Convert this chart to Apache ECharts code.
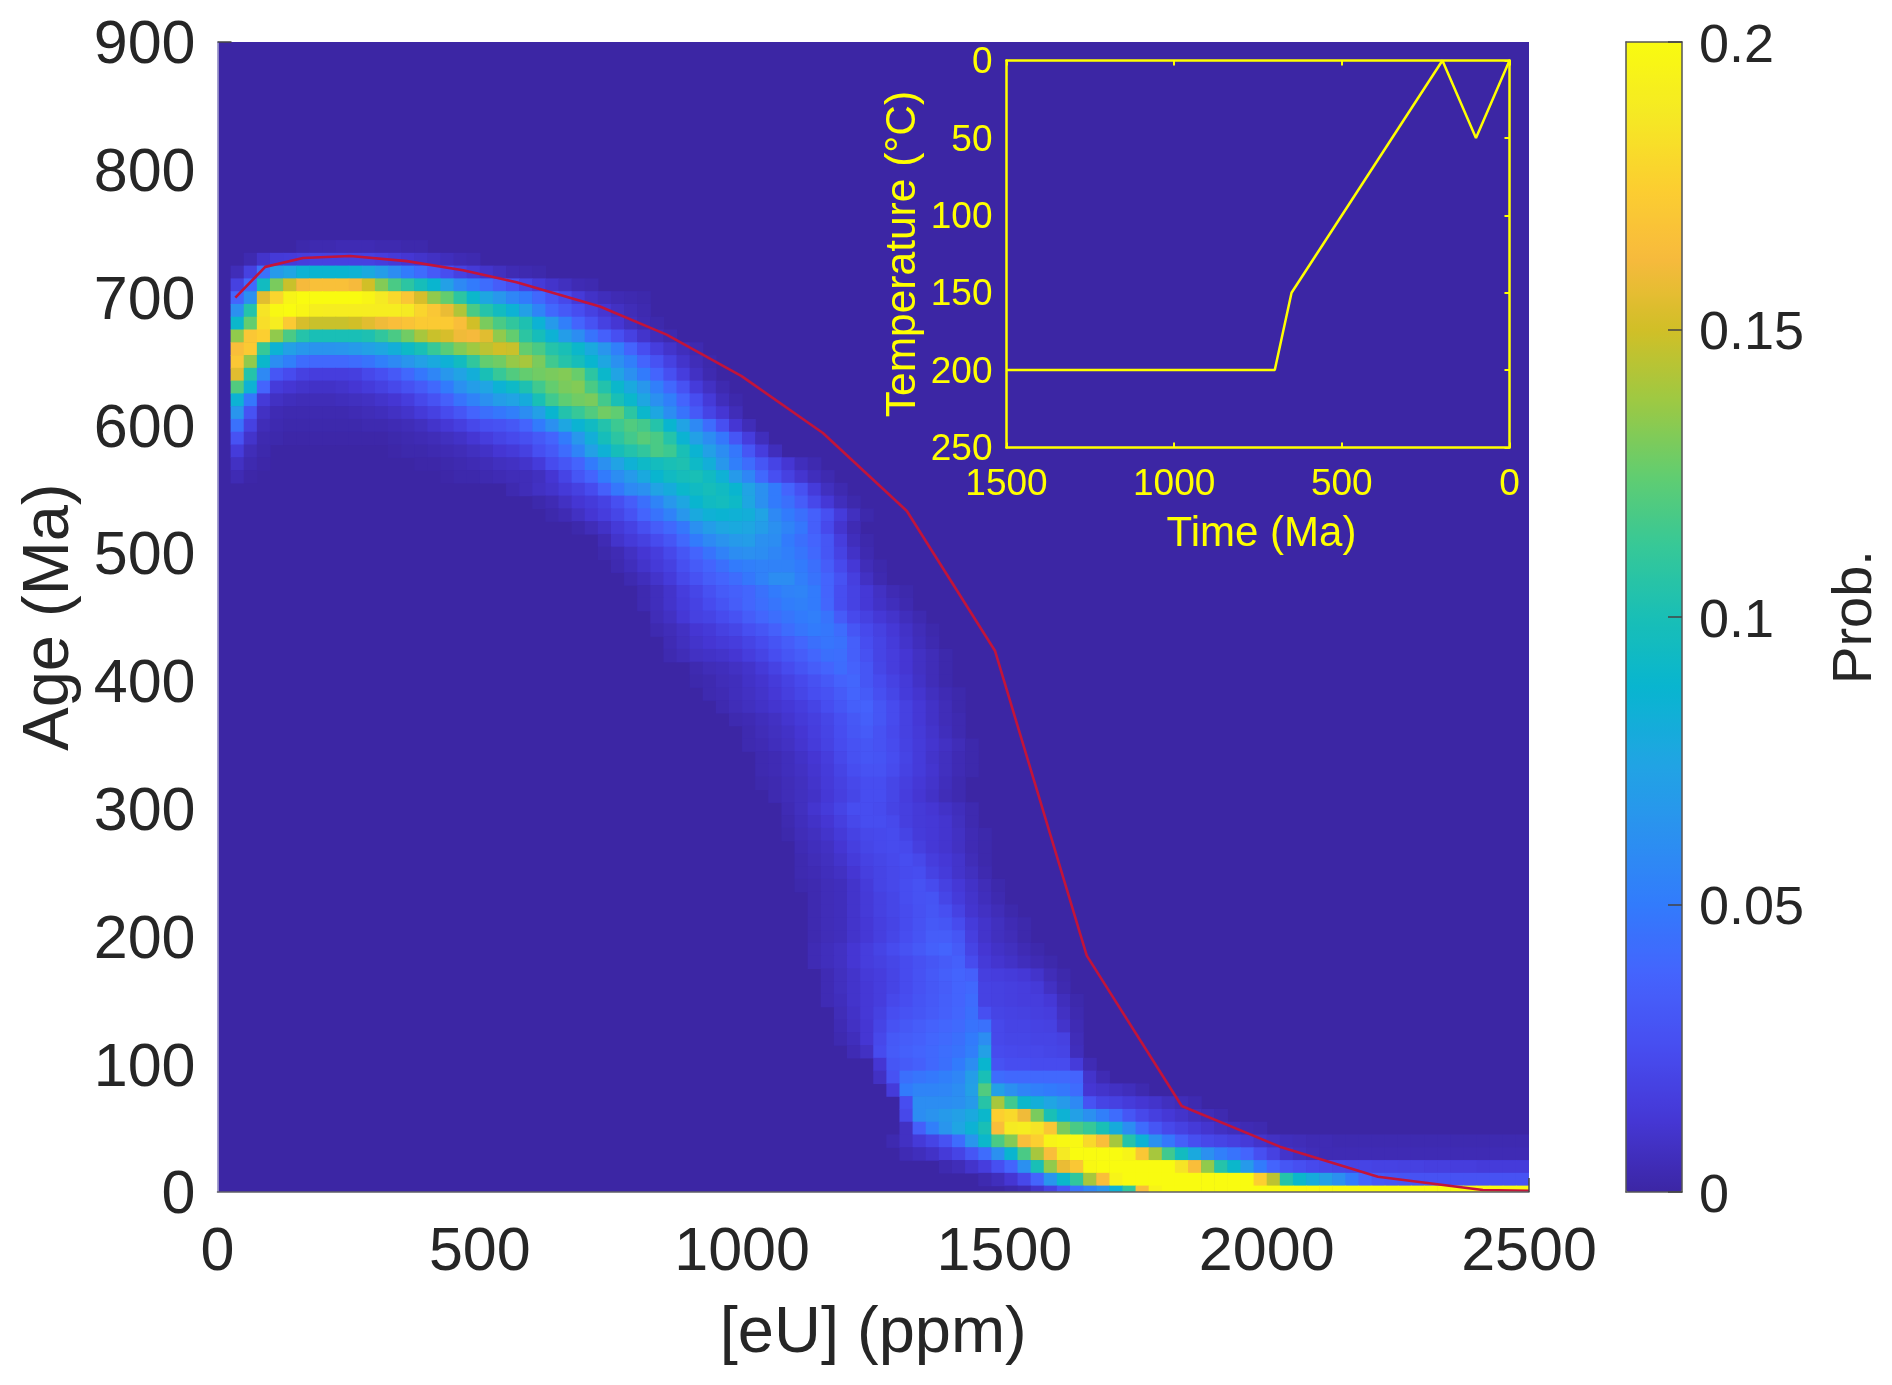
<!DOCTYPE html>
<html><head><meta charset="utf-8">
<style>html,body{margin:0;padding:0;background:#fff}#c{width:1892px;height:1385px}</style>
<script src="https://cdn.jsdelivr.net/npm/echarts@6/dist/echarts.min.js"></script>
</head><body><div id="c"></div>
<script>
// Heat-map cells: one row per age bin (centre, Ma); values are probability in thousandths.
// Column k covers 25k..25(k+1) ppm eU; startCols gives the k of the first listed value.
const eUStep = 25, ageStep = 10;
const ageBins = [740,730,720,710,700,690,680,670,660,650,640,630,620,610,600,590,580,570,560,550,540,530,520,510,500,490,480,470,460,450,440,430,420,410,400,390,380,370,360,350,340,330,320,310,300,290,280,270,260,250,240,230,220,210,200,190,180,170,160,150,140,130,120,110,100,90,80,70,60,50,40,30,20,10,0];
const startCols = [6,2,1,1,1,1,1,1,1,1,1,1,1,1,1,1,1,1,1,22,24,25,27,29,29,30,31,32,32,33,33,34,34,36,36,37,38,39,40,40,41,41,41,42,43,43,43,44,44,44,44,45,45,45,45,45,45,46,46,46,47,47,47,48,50,50,51,52,52,52,51,52,55,58,60];
const probRows = [
[2,3,3,4,4,4,3,3,2,2],
[3,10,14,15,16,18,18,18,18,18,16,14,12,10,8,6,4,3],
[5,18,45,68,75,85,87,87,87,85,78,70,60,50,42,32,25,18,14,10,7,4,3,2],
[18,40,95,130,148,162,166,166,166,162,150,132,118,108,98,88,72,58,50,42,34,28,20,14,10,7,4,3],
[38,62,155,178,195,200,200,200,200,200,196,188,180,170,152,135,125,108,90,76,66,56,50,40,30,22,14,9,6,4,3,2],
[62,105,185,198,200,196,191,190,190,190,190,190,190,188,178,170,158,142,118,105,95,85,72,55,40,32,25,18,12,8,5,3],
[90,125,182,190,172,152,148,148,148,150,155,160,165,168,172,172,172,165,150,130,118,110,102,85,68,52,38,28,18,12,7,4,2],
[135,170,175,135,118,105,100,100,100,100,102,110,118,128,140,148,152,160,162,155,135,125,108,98,85,70,60,46,36,26,18,10,6,3],
[165,172,112,85,72,66,64,64,65,68,72,76,82,92,100,112,122,132,138,145,150,148,125,118,105,100,90,78,65,52,38,25,16,10,6,3],
[170,135,90,60,52,42,40,40,40,42,46,52,58,65,72,78,84,95,110,125,128,136,140,130,115,105,98,88,76,62,52,38,28,18,10,5,2],
[155,105,58,30,24,18,16,16,16,17,22,26,32,40,48,56,66,74,82,100,112,120,125,128,130,132,126,108,90,74,62,50,38,26,16,8,3],
[120,85,38,15,12,10,9,9,10,12,15,18,22,27,33,40,50,62,70,75,85,92,102,115,125,130,132,118,104,90,78,66,52,40,28,15,8,3],
[85,48,14,8,6,5,5,5,6,7,8,10,12,16,22,28,36,46,54,62,70,74,80,100,115,124,128,130,116,100,90,76,62,52,38,25,14,6,2],
[65,28,8,4,3,3,3,3,3,4,5,6,8,10,14,18,24,30,38,44,48,52,60,72,88,104,112,120,128,124,108,90,76,60,46,32,20,12,5],
[45,18,5,3,2,2,2,2,2,2,3,3,4,5,7,10,13,17,22,26,28,31,38,50,62,76,86,94,104,114,120,116,105,88,74,58,42,26,12,5],
[28,10,3,2,1,1,1,1,1,1,1,1,2,3,4,5,7,9,12,16,20,23,26,32,38,50,66,82,98,108,116,122,118,105,86,72,60,48,30,16,6],
[15,5,2,0,0,0,0,0,0,0,0,0,1,2,2,3,4,5,7,9,12,14,18,26,32,42,55,72,84,98,104,110,118,114,100,86,72,60,48,30,16,6],
[8,3,1,0,0,0,0,0,0,0,0,0,0,0,1,1,2,3,4,5,7,8,10,15,24,30,38,50,62,74,84,92,96,100,102,92,82,66,52,42,30,20,12,6,3],
[4,1,0,0,0,0,0,0,0,0,0,0,0,0,0,0,1,2,2,3,4,5,5,7,12,20,30,38,50,60,68,78,88,94,98,100,94,84,68,56,40,26,18,11,6,3],
[3,5,8,10,14,18,24,36,48,58,62,74,80,90,94,98,94,88,74,62,50,38,27,15,7,3],
[2,4,8,12,15,19,26,34,44,55,66,76,88,94,96,92,76,62,50,44,34,22,13,6,2],
[2,4,8,12,16,21,28,38,46,54,66,78,84,86,84,82,74,58,50,44,36,26,15,7,2],
[2,5,9,14,19,26,34,40,48,62,70,76,78,76,70,62,55,48,35,23,11,4],
[4,10,14,18,24,30,40,50,58,64,68,70,62,60,50,44,38,30,16,6,2],
[2,4,8,12,16,22,30,38,46,54,60,62,60,56,52,47,40,30,19,9,3],
[3,6,10,14,18,26,33,38,44,50,52,54,54,54,50,44,34,23,13,5,2],
[3,6,10,15,22,28,34,38,42,48,54,60,60,52,46,38,28,17,8,3],
[3,6,10,16,21,27,33,36,39,45,50,54,55,50,38,25,19,13,8,4,2],
[3,6,10,15,19,24,29,34,39,43,47,51,53,50,39,25,19,13,9,6,3],
[5,8,13,18,20,24,28,34,39,43,47,50,52,46,33,23,18,13,10,6,3],
[3,5,8,12,14,18,21,26,30,36,42,47,50,48,42,30,23,18,13,9,5,2],
[4,7,10,12,14,16,20,24,29,34,39,44,47,45,35,25,20,15,10,6,3],
[3,5,8,9,10,12,16,20,25,30,34,39,44,43,35,27,20,16,12,8,5,2],
[3,5,6,8,10,14,19,24,29,34,38,42,37,30,21,16,12,8,5,2],
[2,3,5,6,9,11,15,19,23,27,32,37,39,30,24,19,14,9,5,2],
[3,4,6,8,10,13,17,21,25,28,33,38,33,26,21,15,11,7,4,2],
[3,5,7,9,11,13,16,20,25,30,35,37,30,24,18,13,9,5,2],
[3,4,6,8,11,14,17,21,26,31,35,30,24,18,13,9,5,3],
[3,5,7,9,12,16,20,25,30,33,28,23,18,14,10,6,3],
[3,4,6,8,11,15,19,24,28,30,28,24,19,15,11,8,5,2],
[3,4,6,9,12,16,22,27,30,29,25,20,15,10,7,4,2],
[3,4,6,8,11,15,20,25,28,28,24,19,15,11,7,4,2],
[2,3,5,7,10,14,18,22,25,25,21,17,13,10,6,3],
[3,5,7,9,13,17,21,25,25,21,16,12,9,5,3],
[4,7,11,15,20,25,25,24,20,17,14,12,9,6,3],
[3,6,9,12,17,22,25,25,23,17,14,13,11,7,3],
[2,5,7,10,14,19,22,23,24,20,15,13,11,8,4,2],
[4,6,8,12,17,21,23,24,23,17,13,11,8,4,2],
[3,5,7,10,15,19,21,23,25,22,16,13,10,5,2],
[3,4,6,8,12,17,20,22,24,25,19,15,10,7,3],
[2,3,5,6,10,15,20,22,25,28,24,18,13,9,5,2],
[3,5,6,10,14,18,21,25,28,29,21,15,10,6,3],
[3,5,6,10,14,18,21,24,27,30,26,19,11,8,5,2],
[3,5,6,10,13,17,20,24,28,32,30,24,15,10,7,4,2],
[3,5,6,10,13,17,21,25,29,34,34,30,17,10,7,5,2],
[4,6,8,12,16,20,24,28,32,36,38,33,20,12,9,7,4,2],
[4,6,8,12,16,18,21,24,27,30,33,36,24,14,11,9,6,4,2],
[4,7,10,14,16,20,24,28,32,35,38,36,17,16,15,13,10,5,2],
[4,7,10,13,16,20,24,28,31,34,38,40,19,18,17,16,14,8,3],
[4,6,10,13,16,22,25,29,32,35,38,42,19,18,17,16,16,13,6,2],
[5,9,13,18,25,28,30,33,36,39,44,26,20,19,18,17,16,8,3],
[4,8,12,20,28,31,34,37,39,41,46,45,22,20,20,19,18,10,4],
[3,6,12,22,32,34,36,39,41,44,50,60,22,21,21,20,20,18,5],
[4,8,24,33,36,38,40,43,46,52,72,24,23,22,22,21,20,6],
[12,30,33,36,40,44,50,60,88,28,25,25,24,24,24,15,4],
[8,28,44,47,49,52,56,70,100,42,40,40,40,40,40,38,10,4],
[15,50,55,55,56,60,72,120,72,62,55,52,50,48,42,12,10,8,6,3],
[25,60,60,60,62,68,106,140,115,90,82,75,68,58,28,20,18,15,12,10,7,5,3],
[22,60,64,68,72,78,90,175,180,160,130,100,85,72,62,52,42,30,22,17,13,10,7,5,3],
[8,35,52,65,75,85,100,165,188,190,185,170,130,118,112,100,80,60,42,30,22,18,14,11,8,6,4,3],
[3,8,14,20,28,42,65,90,118,132,165,175,195,198,198,180,165,140,105,85,62,48,35,26,22,20,17,14,10,8,6,5,4,4,3,3,3,3,3,3,3,3,3,3,3,3,3,3,3],
[4,6,9,14,20,30,42,62,88,118,140,165,188,200,200,200,200,195,170,140,115,95,78,62,52,46,38,26,18,10,7,5,4,4,4,4,4,4,4,4,4,4,4,4,4,4,4,4],
[3,5,10,16,26,38,62,100,135,158,170,198,200,200,200,200,200,200,185,165,135,105,90,68,50,38,30,26,23,22,21,20,20,19,19,18,18,17,17,16,16,15,15,15,15],
[3,6,12,22,38,65,90,110,140,165,195,200,200,200,200,200,200,200,200,200,200,175,145,105,90,80,72,62,50,38,32,30,29,28,28,28,28,28,28,28,28,28],
[2,4,10,18,30,45,55,65,85,110,165,195,200,200,200,200,200,200,200,200,200,200,200,200,200,200,200,200,200,200,200,200,200,200,200,200,200,200,200,200]
];
// Red age curve
const curveEU  = [34,91,163,253,361,468,570,729,856,999,1154,1314,1482,1657,1838,2025,2212,2412,2500];
const curveAge = [700,724,731,732.5,728.5,721.4,712,693,671,638.5,594,533,423.6,185,67.3,35.5,12,1.6,1];
// Inset thermal history
const insetTime = [1500,700,650,200,100,0];
const insetTemp = [200,200,150,0,50,0];
// Colour scale
const parula = ['#3c26a4','#4537d5','#474df0','#4563fd','#327bfc','#2b91ef','#20a5e3','#08b5d0','#19bfb6','#37c897','#63cd6f','#9dc943','#d1bf27','#f8ba3d','#fccf30','#f5e924','#f9fb10'];

const cells = [];
ageBins.forEach((age, r) => {
  probRows[r].forEach((v, j) => {
    if (v > 0) cells.push([eUStep * (startCols[r] + j) + eUStep / 2, age, v / 1000]);
  });
});

const FONT = 'Liberation Sans, Helvetica, Arial, sans-serif';
const INK = '#262626', YEL = '#ffff00';
const G0 = {left:217.5, top:42, width:1311.5, height:1150};
const G1 = {left:1006.5, top:60.5, width:503, height:387};
const G2 = {left:1626, top:42, width:56, height:1150};
const plain = v => String(v);

const chart = echarts.init(document.getElementById('c'), null, {renderer:'canvas'});
const boxAxis = (gridIndex, position, z, color, width) => ({
  type:'value', gridIndex, position, min:0, max:1, z,
  axisLine:{show:true, onZero:false, lineStyle:{color, width}},
  axisTick:{show:false}, axisLabel:{show:false}, splitLine:{show:false}
});
const insetY = {type:'value', gridIndex:1, min:0, max:250, interval:50, inverse:true, z:5, splitLine:{show:false}};
const insetX = {type:'value', gridIndex:1, min:0, max:1500, interval:500, inverse:true, z:5, splitLine:{show:false}};

chart.setOption({
  animation:false,
  backgroundColor:'#ffffff',
  textStyle:{fontFamily:FONT},
  grid:[
    Object.assign({show:true, backgroundColor:'#3c26a4', borderWidth:0}, G0),
    Object.assign({show:false}, G1),
    Object.assign({show:false}, G2)
  ],
  xAxis:[
    {type:'value', gridIndex:0, min:0, max:2500, interval:500, position:'bottom', z:4,
     name:'[eU] (ppm)', nameLocation:'middle', nameGap:110,
     nameTextStyle:{fontSize:65, color:INK, fontFamily:FONT},
     axisLine:{show:true, onZero:false, lineStyle:{color:'#5f5f66', width:1.5}},
     axisTick:{show:true, inside:true, length:14, customValues:[2500], lineStyle:{color:'#444', width:1.5}},
     axisLabel:{fontSize:61, color:INK, margin:31, fontFamily:FONT, formatter:plain},
     splitLine:{show:false}},
    Object.assign({}, insetX, {position:'bottom',
     name:'Time (Ma)', nameLocation:'middle', nameGap:66,
     nameTextStyle:{fontSize:42, color:YEL, fontFamily:FONT, padding:[0,0,0,7]},
     axisLine:{show:true, onZero:false, lineStyle:{color:YEL, width:2.5}},
     axisTick:{show:true, inside:true, length:5, lineStyle:{color:YEL, width:2}},
     axisLabel:{fontSize:37, color:YEL, margin:19, fontFamily:FONT, showMinLabel:true, showMaxLabel:true, formatter:plain}}),
    Object.assign({}, insetX, {position:'top',
     axisLine:{show:true, onZero:false, lineStyle:{color:YEL, width:2.5}},
     axisTick:{show:true, inside:true, length:5, lineStyle:{color:YEL, width:2}},
     axisLabel:{show:false}}),
    boxAxis(2,'bottom',6,'#555',1.5),
    boxAxis(2,'top',6,'#555',1.5)
  ],
  yAxis:[
    {type:'value', gridIndex:0, min:0, max:900, interval:100, position:'left', z:4,
     name:'Age (Ma)', nameLocation:'middle', nameGap:135, nameRotate:90,
     nameTextStyle:{fontSize:65, color:INK, fontFamily:FONT},
     axisLine:{show:true, onZero:false, lineStyle:{color:'#aaa7cf', width:1.5}},
     axisTick:{show:true, inside:true, length:14, customValues:[900], lineStyle:{color:'#444', width:1.5}},
     axisLabel:{fontSize:61, lineHeight:61, color:INK, margin:22, fontFamily:FONT, verticalAlign:'top', padding:[-26,0,0,0], formatter:plain},
     splitLine:{show:false}},
    Object.assign({}, insetY, {position:'left',
     name:'Temperature (°C)', nameLocation:'middle', nameGap:82, nameRotate:90,
     nameTextStyle:{fontSize:42.5, color:YEL, fontFamily:FONT},
     axisLine:{show:true, onZero:false, lineStyle:{color:YEL, width:2.5}},
     axisTick:{show:false},
     axisLabel:{fontSize:37, lineHeight:37, color:YEL, margin:14, fontFamily:FONT, verticalAlign:'top', padding:[-16,0,0,0], formatter:plain}}),
    Object.assign({}, insetY, {position:'right',
     axisLine:{show:true, onZero:false, lineStyle:{color:YEL, width:2.5}},
     axisTick:{show:true, inside:true, length:5, lineStyle:{color:YEL, width:2}},
     axisLabel:{show:false}}),
    {type:'value', gridIndex:2, min:0, max:0.2, interval:0.05, position:'right', z:6,
     name:'Prob.', nameLocation:'middle', nameGap:146, nameRotate:90,
     nameTextStyle:{fontSize:56, color:INK, fontFamily:FONT},
     axisLine:{show:true, onZero:false, lineStyle:{color:'#555', width:1.5}},
     axisTick:{show:true, inside:true, length:14, lineStyle:{color:'#444', width:1.5}},
     axisLabel:{fontSize:54, lineHeight:54, color:INK, margin:17, fontFamily:FONT, verticalAlign:'top', padding:[-22,0,0,0]},
     splitLine:{show:false}},
    boxAxis(2,'left',6,'#555',1.5)
  ],
  visualMap:[{
    type:'continuous', seriesIndex:0, dimension:2, min:0, max:0.2,
    left:G2.left, top:G2.top, itemWidth:G2.width, itemHeight:G2.height,
    padding:0, text:null, showLabel:false, calculable:false, realtime:false, hoverLink:false,
    inRange:{color:parula}, textStyle:{fontSize:0, color:'transparent'}
  }],
  series:[
    {type:'custom', name:'Prob.', coordinateSystem:'cartesian2d', xAxisIndex:0, yAxisIndex:0,
     data:cells, encode:{x:0, y:1}, z:2, progressive:0, silent:true, animation:false,
     renderItem(params, api){
       const e = api.value(0), a = api.value(1);
       const p0 = api.coord([e - eUStep/2, a + ageStep/2]);
       const p1 = api.coord([e + eUStep/2, a - ageStep/2]);
       const r = echarts.graphic.clipRectByRect(
         {x:p0[0], y:p0[1], width:p1[0]-p0[0]+0.6, height:p1[1]-p0[1]+0.6},
         {x:params.coordSys.x, y:params.coordSys.y, width:params.coordSys.width, height:params.coordSys.height});
       return r && {type:'rect', shape:r, style:{fill:api.visual('color')}};
     }},
    {type:'line', name:'Curve', xAxisIndex:0, yAxisIndex:0, z:3, showSymbol:false, symbol:'none', silent:true,
     data:curveEU.map((x,i)=>[x,curveAge[i]]), lineStyle:{color:'#c2143a', width:2.6}},
    {type:'line', name:'T-t path', xAxisIndex:1, yAxisIndex:1, z:4, showSymbol:false, symbol:'none', silent:true,
     data:insetTime.map((x,i)=>[x,insetTemp[i]]), lineStyle:{color:YEL, width:2.5}}
  ]
});
</script></body></html>
